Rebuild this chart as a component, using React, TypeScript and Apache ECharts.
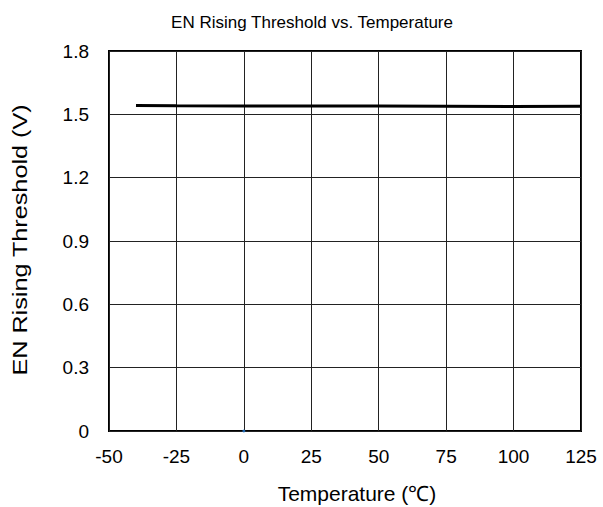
import React, { useEffect, useRef } from "react";
import * as echarts from "echarts";

const temperatures = [-40, -25, 0, 25, 50, 75, 100, 125];
const thresholds = [1.542, 1.541, 1.540, 1.539, 1.539, 1.538, 1.537, 1.538];
const markerPoint = [[0, 0]];
const titleText = "EN Rising Threshold vs. Temperature";
const xName = "Temperature (℃)";
const yName = "EN Rising Threshold (V)";

const FONT = "Liberation Sans, Arial, sans-serif";

export default function App() {
  const ref = useRef<HTMLDivElement>(null);
  useEffect(() => {
    if (!ref.current) return;
    const chart = echarts.init(ref.current, undefined, { renderer: "svg" });
    chart.setOption({
      animation: false,
      backgroundColor: "#fff",
      textStyle: { fontFamily: FONT },
      grid: {
        left: 109,
        right: 22,
        top: 51,
        bottom: 76,
        show: true,
        borderColor: "#000",
        borderWidth: 2,
        containLabel: false,
      },
      graphic: [
        {
          type: "text",
          x: 312,
          y: 22,
          style: {
            text: titleText,
            font: `17px ${FONT}`,
            fill: "#000",
            align: "center",
            verticalAlign: "middle",
          },
        },
        {
          type: "text",
          x: 357,
          y: 493,
          style: {
            text: xName,
            font: `21px ${FONT}`,
            fill: "#000",
            align: "center",
            verticalAlign: "middle",
          },
        },
        {
          type: "text",
          x: 20,
          y: 240,
          rotation: Math.PI / 2,
          scaleX: 1.2,
          style: {
            text: yName,
            font: `21px ${FONT}`,
            fill: "#000",
            align: "center",
            verticalAlign: "middle",
          },
        },
      ],
      xAxis: {
        type: "value",
        min: -50,
        max: 125,
        interval: 25,
        axisLine: { show: false },
        axisTick: { show: false },
        axisLabel: { color: "#000", fontSize: 19, margin: 16, fontFamily: FONT },
        splitLine: { show: true, lineStyle: { color: "#222", width: 1 } },
      },
      yAxis: {
        type: "value",
        min: 0,
        max: 1.8,
        interval: 0.3,
        axisLine: { show: false },
        axisTick: { show: false },
        axisLabel: {
          color: "#000",
          fontSize: 19,
          margin: 20,
          fontFamily: FONT,
          formatter: (v: number) => (v === 0 ? "0" : v.toFixed(1)),
        },
        splitLine: { show: true, lineStyle: { color: "#222", width: 1 } },
      },
      series: [
        {
          type: "line",
          data: temperatures.map((t, i) => [t, thresholds[i]]),
          showSymbol: false,
          symbol: "none",
          lineStyle: { color: "#000", width: 3 },
          z: 5,
        },
        {
          type: "scatter",
          data: markerPoint,
          symbolSize: 3,
          itemStyle: { color: "#1f77d0" },
          clip: false,
          z: 6,
        },
      ],
    });
    return () => chart.dispose();
  }, []);
  return (
    <div
      ref={ref}
      style={{ position: "absolute", left: 0, top: 0, width: 603, height: 507 }}
    />
  );
}
